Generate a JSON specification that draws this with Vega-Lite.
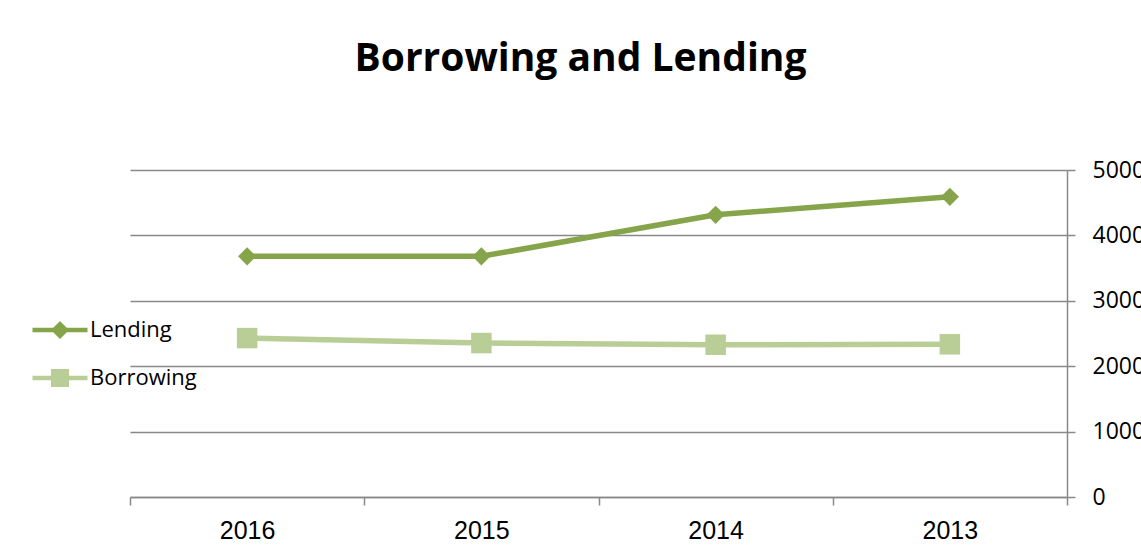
{
  "$schema": "https://vega.github.io/schema/vega-lite/v6.json",
  "width": 937,
  "height": 327,
  "autosize": {"type": "none"},
  "padding": {"left": 130, "top": 170, "right": 74, "bottom": 63},
  "background": "white",
  "config": {"view": {"stroke": null}},
  "title": {
    "text": "Borrowing and Lending",
    "font": "Open Sans",
    "fontWeight": "bold",
    "fontSize": 39,
    "color": "black",
    "anchor": "middle",
    "dx": -18,
    "offset": 80
  },
  "data": {
    "values": [
      {"year": "2016", "series": "Lending", "value": 3680},
      {"year": "2015", "series": "Lending", "value": 3680},
      {"year": "2014", "series": "Lending", "value": 4315},
      {"year": "2013", "series": "Lending", "value": 4590},
      {"year": "2016", "series": "Borrowing", "value": 2430},
      {"year": "2015", "series": "Borrowing", "value": 2354},
      {"year": "2014", "series": "Borrowing", "value": 2328},
      {"year": "2013", "series": "Borrowing", "value": 2335}
    ]
  },
  "encoding": {
    "x": {
      "field": "year",
      "type": "ordinal",
      "sort": ["2016", "2015", "2014", "2013"],
      "scale": {"paddingInner": 0, "paddingOuter": 0},
      "axis": {
        "orient": "bottom",
        "title": null,
        "tickBand": "extent",
        "labelAngle": 0,
        "grid": false,
        "domainColor": "#898989",
        "domainWidth": 1.5,
        "tickColor": "#898989",
        "tickWidth": 1.5,
        "tickSize": 8,
        "labelFont": "Liberation Sans",
        "labelFontSize": 25,
        "labelColor": "black",
        "labelPadding": 13
      }
    },
    "y": {
      "field": "value",
      "type": "quantitative",
      "scale": {"domain": [0, 5000]},
      "axis": {
        "orient": "right",
        "title": null,
        "values": [0, 1000, 2000, 3000, 4000, 5000],
        "format": "d",
        "grid": true,
        "gridColor": "#898989",
        "gridWidth": 1.5,
        "domainColor": "#898989",
        "domainWidth": 1.5,
        "tickColor": "#898989",
        "tickWidth": 1.5,
        "tickSize": 8,
        "labelFont": "Open Sans",
        "labelFontSize": 23,
        "labelColor": "black",
        "labelPadding": 17,
        "labelAlign": "left",
        "labelBaseline": "middle"
      }
    }
  },
  "layer": [
    {
      "transform": [{"filter": "datum.series === 'Lending'"}],
      "layer": [
        {"mark": {"type": "line", "strokeWidth": 5.5, "color": "#86A44A"}},
        {
          "mark": {"type": "point", "filled": true, "opacity": 1, "size": 330, "shape": "diamond"},
          "encoding": {
            "color": {
              "field": "series",
              "type": "nominal",
              "scale": {"domain": ["Lending"], "range": ["#86A44A"]},
              "legend": {
                "title": null,
                "orient": "none",
                "legendX": -81,
                "legendY": 149,
                "padding": 0,
                "symbolSize": 400,
                "symbolType": "M-2.75,-0.22H2.75V0.22H-2.75Z M0,-0.9L0.9,0L0,0.9L-0.9,0Z",
                "symbolStrokeWidth": 0,
                "symbolOpacity": 1,
                "labelFont": "Open Sans",
                "labelFontSize": 22,
                "labelColor": "black",
                "labelOffset": 19
              }
            }
          }
        }
      ]
    },
    {
      "transform": [{"filter": "datum.series === 'Borrowing'"}],
      "layer": [
        {"mark": {"type": "line", "strokeWidth": 5.5, "color": "#B9CD96"}},
        {
          "mark": {"type": "point", "filled": true, "opacity": 1, "size": 420, "shape": "square"},
          "encoding": {
            "color": {
              "field": "series",
              "type": "nominal",
              "scale": {"domain": ["Borrowing"], "range": ["#B9CD96"]},
              "legend": {
                "title": null,
                "orient": "none",
                "legendX": -81,
                "legendY": 197,
                "padding": 0,
                "symbolSize": 400,
                "symbolType": "M-2.75,-0.22H2.75V0.22H-2.75Z M-0.9,-0.9H0.9V0.9H-0.9Z",
                "symbolStrokeWidth": 0,
                "symbolOpacity": 1,
                "labelFont": "Open Sans",
                "labelFontSize": 22,
                "labelColor": "black",
                "labelOffset": 19
              }
            }
          }
        }
      ]
    }
  ],
  "resolve": {"scale": {"color": "independent"}}
}
